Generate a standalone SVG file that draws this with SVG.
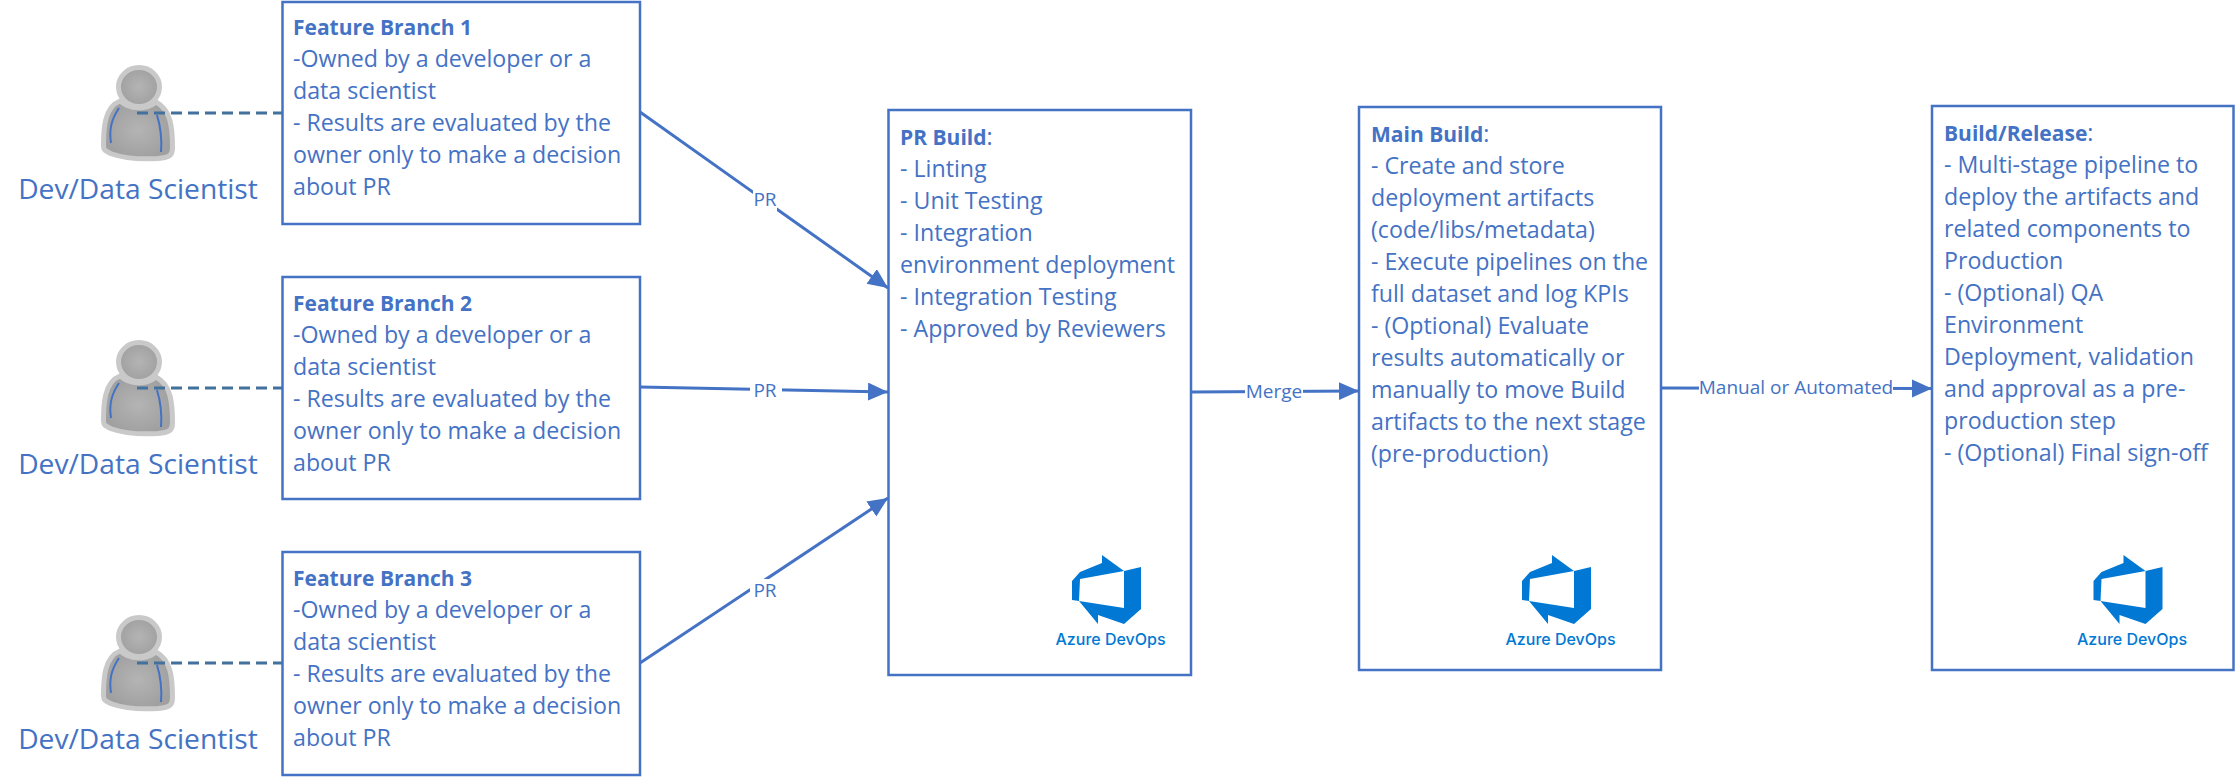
<svg xmlns="http://www.w3.org/2000/svg" width="2236" height="777" viewBox="0 0 2236 777">
<style>
.box{fill:#fff;stroke:#4472c4;stroke-width:2.5}
text{font-family:"Open Sans","Noto Sans","Liberation Sans",sans-serif;fill:#4472c4}
.t{font-size:23.200px}
.h{font-size:21px;font-weight:700}
.who{font-size:28.200px;text-anchor:middle}
.lab{font-size:19px;text-anchor:middle}
.az{font-size:16px;fill:#0078d4;font-family:Inter,"Open Sans",sans-serif;font-weight:500;text-anchor:middle}
.c{fill:none;stroke:#4472c4;stroke-width:3;marker-end:url(#arr)}
.d{fill:none;stroke:#41719c;stroke-width:3;stroke-dasharray:11 6}
.lbg{fill:#fff}
</style>
<defs>
<marker id="arr" markerUnits="userSpaceOnUse" markerWidth="22" markerHeight="20" refX="20" refY="9" orient="auto"><path d="M0 0L20 9L0 18Z" fill="#4472c4"/></marker>
<radialGradient id="g"><stop offset="0" stop-color="#b4b4b4"/><stop offset="1" stop-color="#a0a0a0"/></radialGradient>
<g id="person">
<path d="M120 101C104 107 103.500 130 103.500 146C103.500 150 105 151 112 154C126 159 141 159.500 158 158.500C170 157.500 172.500 155 172.500 148C172.500 128 171 110 156 102C146 110 130 110 120 101Z" fill="url(#g)" stroke="#c9c9c9" stroke-width="5"/>
<ellipse cx="139" cy="87" rx="20.500" ry="19.500" fill="url(#g)" stroke="#c9c9c9" stroke-width="5"/>
<path d="M119 108C111 120 109 130 111 143M157 115C161 128 162 140 161 152" fill="none" stroke="#4472c4" stroke-width="2"/>
</g>
<g id="logo">
<path fill="#0078d4" fill-rule="evenodd" d="M31 -8L53 8L70 4L70 46L53 61L27 52L27 61L8 38L1 37L1 18L9 9L31 0ZM9 16L8 38L53 45L53 8Z"/>
<text class="az" x="39.500" y="81.500">Azure DevOps</text>
</g>
</defs>
<g id="dev1"><use href="#person"/><text class="who" x="138" y="199">Dev/Data Scientist</text></g>
<g id="dev2"><use href="#person" y="275"/><text class="who" x="138" y="474">Dev/Data Scientist</text></g>
<g id="dev3"><use href="#person" y="550"/><text class="who" x="138" y="749">Dev/Data Scientist</text></g>
<g id="connectors">
<path class="d" d="M137 113H282"/><path class="d" d="M137 388H282"/><path class="d" d="M137 663H282"/>
<path class="c" d="M640 112L888 288"/>
<path class="c" d="M640 387L888 392"/>
<path class="c" d="M640 663L888 498"/>
<path class="c" d="M1191 392L1359 391"/>
<path class="c" d="M1661 388L1932 388.500"/>
</g>
<g id="fb1"><rect class="box" x="282.500" y="2" width="357.500" height="222"/>
<text class="h" x="293" y="35">Feature Branch 1</text>
<text class="t" x="293" y="67">-Owned by a developer or a</text><text class="t" x="293" y="99">data scientist</text><text class="t" x="293" y="131">- Results are evaluated by the</text><text class="t" x="293" y="163">owner only to make a decision</text><text class="t" x="293" y="195">about PR</text></g>
<g id="fb2"><rect class="box" x="282.500" y="277" width="357.500" height="222"/>
<text class="h" x="293" y="311">Feature Branch 2</text>
<text class="t" x="293" y="343">-Owned by a developer or a</text><text class="t" x="293" y="375">data scientist</text><text class="t" x="293" y="407">- Results are evaluated by the</text><text class="t" x="293" y="439">owner only to make a decision</text><text class="t" x="293" y="471">about PR</text></g>
<g id="fb3"><rect class="box" x="282.500" y="552" width="357.500" height="223"/>
<text class="h" x="293" y="586">Feature Branch 3</text>
<text class="t" x="293" y="618">-Owned by a developer or a</text><text class="t" x="293" y="650">data scientist</text><text class="t" x="293" y="682">- Results are evaluated by the</text><text class="t" x="293" y="714">owner only to make a decision</text><text class="t" x="293" y="746">about PR</text></g>
<g id="pr"><rect class="box" x="888.500" y="110" width="302.500" height="565"/>
<text class="t" x="900" y="145"><tspan class="h">PR Build</tspan>:</text>
<text class="t" x="900" y="177">- Linting</text><text class="t" x="900" y="209">- Unit Testing</text><text class="t" x="900" y="241">- Integration</text><text class="t" x="900" y="273">environment deployment</text><text class="t" x="900" y="305">- Integration Testing</text><text class="t" x="900" y="337">- Approved by Reviewers</text>
<use href="#logo" x="1071" y="563"/></g>
<g id="main"><rect class="box" x="1359" y="107" width="302" height="563"/>
<text class="t" x="1371" y="142"><tspan class="h">Main Build</tspan>:</text>
<text class="t" x="1371" y="174">- Create and store</text><text class="t" x="1371" y="206">deployment artifacts</text><text class="t" x="1371" y="238">(code/libs/metadata)</text><text class="t" x="1371" y="270">- Execute pipelines on the</text><text class="t" x="1371" y="302">full dataset and log KPIs</text><text class="t" x="1371" y="334">- (Optional) Evaluate</text><text class="t" x="1371" y="366">results automatically or</text><text class="t" x="1371" y="398">manually to move Build</text><text class="t" x="1371" y="430">artifacts to the next stage</text><text class="t" x="1371" y="462">(pre-production)</text>
<use href="#logo" x="1521" y="563"/></g>
<g id="rel"><rect class="box" x="1932" y="106" width="301.500" height="564"/>
<text class="t" x="1944" y="141"><tspan class="h">Build/Release</tspan>:</text>
<text class="t" x="1944" y="173">- Multi-stage pipeline to</text><text class="t" x="1944" y="205">deploy the artifacts and</text><text class="t" x="1944" y="237">related components to</text><text class="t" x="1944" y="269">Production</text><text class="t" x="1944" y="301">- (Optional) QA</text><text class="t" x="1944" y="333">Environment</text><text class="t" x="1944" y="365">Deployment, validation</text><text class="t" x="1944" y="397">and approval as a pre-</text><text class="t" x="1944" y="429">production step</text><text class="t" x="1944" y="461">- (Optional) Final sign-off</text>
<use href="#logo" x="2092.500" y="563"/></g>
<g id="labels">
<rect class="lbg" x="753" y="188" width="24" height="24"/><text class="lab" x="765" y="206">PR</text>
<rect class="lbg" x="750" y="378" width="32" height="24"/><text class="lab" x="765" y="397">PR</text>
<rect class="lbg" x="750" y="579" width="32" height="24"/><text class="lab" x="765" y="597">PR</text>
<rect class="lbg" x="1245" y="380" width="58" height="24"/><text class="lab" x="1274" y="398">Merge</text>
<rect class="lbg" x="1699" y="376" width="194" height="24"/><text class="lab" x="1796" y="394">Manual or Automated</text>
</g>
</svg>
